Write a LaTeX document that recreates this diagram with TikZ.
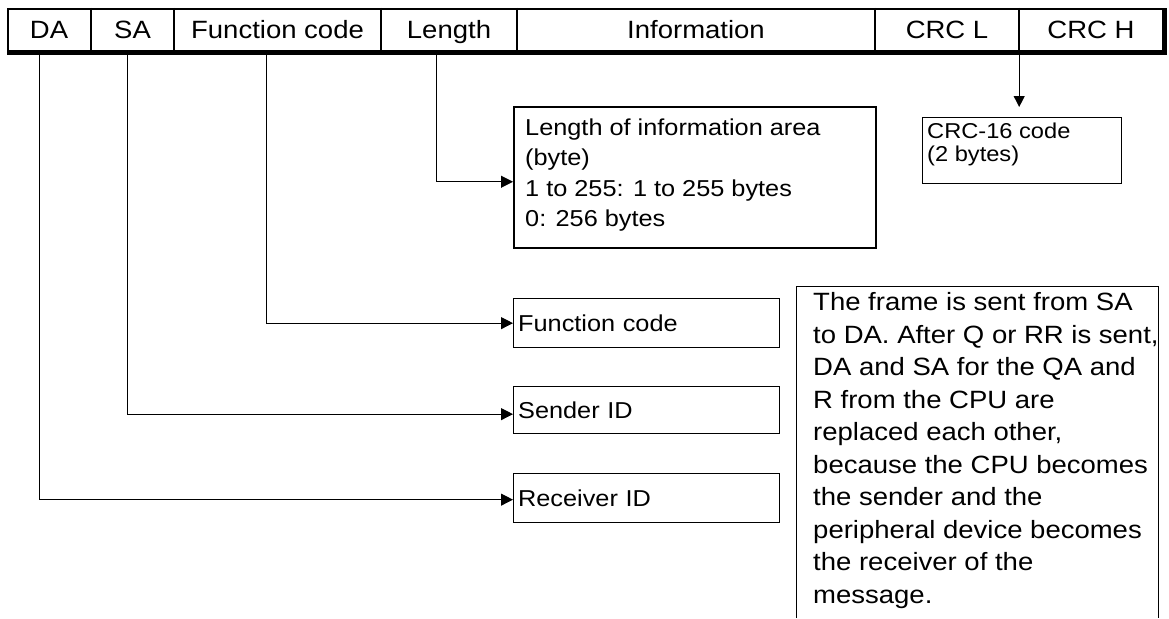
\documentclass[tikz,border=0pt]{standalone}
\usepackage{fontspec}
\setmainfont{Liberation Sans}[FakeStretch=1.1]
\usetikzlibrary{arrows.meta}
\newcommand\hdrf{\fontsize{25}{30}\selectfont}
\newcommand\boxf{\fontsize{23}{30}\selectfont}
\newcommand\crcf{\fontsize{21.5}{22.5}\selectfont}
\newcommand\notef{\fontsize{25}{32.5}\selectfont}
\begin{document}
\begin{tikzpicture}[x=1pt,y=-1pt,
  hdr/.style={inner sep=0pt, minimum height=42pt, text height=18pt, text depth=0pt, font=\hdrf},
  div/.style={line width=1.5pt},
  lbl/.style={draw, line width=1.3pt, inner sep=0pt, inner xsep=4.5pt, anchor=north west, align=left, font=\boxf},
  txt/.style={inner sep=0pt, anchor=north west, align=left},
  conn/.style={line width=1pt, -{Triangle[length=12pt,width=12pt]}},
]
\useasboundingbox (0,0) rectangle (1169,618);
% header cells
\node[hdr, minimum width=84pt]  (da)   at (49,29)    {DA};
\node[hdr, minimum width=83pt]  (sa)   at (132.5,29) {SA};
\node[hdr, minimum width=207pt] (fc)   at (277.5,29) {Function code};
\node[hdr, minimum width=136pt] (len)  at (449,29)   {Length};
\node[hdr, minimum width=358pt] (info) at (696,29)   {Information};
\node[hdr, minimum width=144pt] (crcl) at (947,29)   {CRC L};
\node[hdr, minimum width=144pt] (crch) at (1091,29)  {CRC H};
% frame
\draw[line width=1.7pt] (1163,8.85) -- (7.85,8.85) -- (7.85,51);
\foreach \c in {da,sa,fc,len,info,crcl} \draw[div] (\c.north east) -- (\c.south east);
\fill (7,50) rectangle (1167,55);
\fill (1162,8) rectangle (1167,55);
% boxes
\node[lbl, line width=1.5pt, minimum width=362pt, minimum height=141pt] (lenbox) at (513,106) {};
\node[txt, font=\boxf] (lentxt) at (525,118.5) {Length of information area\\(byte)\\[1pt]1 to 255: 1 to 255 bytes\\0: 256 bytes};
\node[lbl, line width=1pt, minimum width=199pt, minimum height=66pt] (crcbox) at (922,117) {};
\node[txt, font=\crcf] (crctxt) at (927,123) {CRC-16 code\\(2 bytes)};
\node[lbl, minimum width=266pt, minimum height=49pt, text width=257pt] (fcbox)  at (513,298) {Function code};
\node[lbl, minimum width=266pt, minimum height=47pt, text width=257pt] (sndbox) at (513,386) {Sender ID};
\node[lbl, minimum width=266pt, minimum height=49pt, text width=257pt] (rcvbox) at (513,473) {Receiver ID};
% note
\draw[line width=1pt] (796,618) -- (796,286) -- (1158,286) -- (1158,618);
\node[txt, font=\notef] (note) at (813,292.5) {The frame is sent from SA\\to DA. After Q or RR is sent,\\DA and SA for the QA and\\R from the CPU are\\replaced each other,\\because the CPU becomes\\the sender and the\\peripheral device becomes\\the receiver of the\\message.};
% connectors
\draw[conn] ([xshift=-13pt]len.south) |- ([yshift=-4.5pt]lenbox.west);
\draw[conn] ([xshift=-11.5pt]fc.south) |- (fcbox.west);
\draw[conn] ([xshift=-5.5pt]sa.south) |- ([yshift=-4pt]sndbox.west);
\draw[conn] ([xshift=-10pt]da.south) |- ([yshift=-1.5pt]rcvbox.west);
\coordinate (crctip) at ([yshift=10pt]crcbox.north);
\draw[line width=1pt, -{Triangle[length=11pt,width=11pt]}] (crcl.south east) -- (crcl.south east |- crctip);
\end{tikzpicture}
\end{document}
